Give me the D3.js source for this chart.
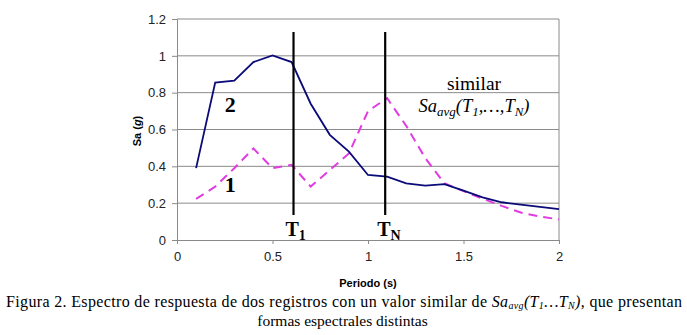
<!DOCTYPE html>
<html>
<head>
<meta charset="utf-8">
<script src="https://cdn.jsdelivr.net/npm/d3@7"></script>
<style>
  body { margin: 0; background: #fff; }
  svg { display: block; }
</style>
</head>
<body>
<div id="chart"></div>
<script>
// periods (s)
var periods = [0.1, 0.2, 0.3, 0.4, 0.5, 0.6, 0.7, 0.8, 0.9, 1.0, 1.1, 1.2, 1.3, 1.4, 1.5, 1.6, 1.7, 1.8, 1.9, 2.0];
// record 2 (solid navy)
var record2 = [0.39, 0.855, 0.865, 0.966, 1.002, 0.966, 0.74, 0.571, 0.48, 0.353, 0.344, 0.308, 0.295, 0.303, 0.268, 0.232, 0.205, 0.192, 0.18, 0.168];
// record 1 (dashed magenta)
var record1 = [0.223, 0.29, 0.39, 0.497, 0.39, 0.408, 0.29, 0.38, 0.47, 0.70, 0.77, 0.62, 0.444, 0.308, 0.265, 0.225, 0.185, 0.149, 0.127, 0.112];
var yTicks = [0, 0.2, 0.4, 0.6, 0.8, 1, 1.2];
var xTicks = [0, 0.5, 1, 1.5, 2];
var periodMarks = [{t: 0.61, name: 'T', sub: '1'}, {t: 1.09, name: 'T', sub: 'N'}];

var W = 687, H = 335;
var margin = {top: 19, right: 128, bottom: 95, left: 177},
    width = 559 - margin.left,
    height = 240 - margin.top;

var root = d3.select('#chart')
    .append('svg')
    .attr('width', W)
    .attr('height', H);

var svg = root.append('g')
    .attr('transform', `translate(${margin.left}, ${margin.top})`);

var x = d3.scaleLinear().domain([0, 2]).range([0, width]);
var y = d3.scaleLinear().domain([0, 1.2]).range([height, 0]);

// gridlines
svg.selectAll('.grid')
    .data(yTicks.slice(1))
    .enter()
    .append('line')
    .attr('x1', 0)
    .attr('x2', width)
    .attr('y1', d => y(d))
    .attr('y2', d => y(d))
    .style('stroke', '#8a8a8a')
    .style('stroke-width', 1);

// right border of the plot area
svg.append('line')
    .attr('x1', width).attr('x2', width)
    .attr('y1', 0).attr('y2', height)
    .style('stroke', '#8a8a8a');

// axes
var yAxis = svg.append('g')
    .call(d3.axisLeft(y).tickValues(yTicks).tickSize(5).tickPadding(6).tickFormat(d3.format('')))
yAxis.selectAll('text').style('font-family', 'Liberation Sans, Arial').style('font-size', '13px').style('fill', '#222');
yAxis.selectAll('line, path').style('stroke', '#8a8a8a');

var xAxis = svg.append('g')
    .attr('transform', `translate(0, ${height})`)
    .call(d3.axisBottom(x).tickValues(xTicks).tickSize(4).tickPadding(8).tickFormat(d3.format('')))
xAxis.selectAll('text').style('font-family', 'Liberation Sans, Arial').style('font-size', '13px').style('fill', '#222');
xAxis.selectAll('line, path').style('stroke', '#8a8a8a');

// lines
var line = d3.line()
    .x((d, i) => x(periods[i]))
    .y(d => y(d));

svg.append('path')
    .datum(record1)
    .attr('d', line)
    .style('fill', 'none')
    .style('stroke', '#e03ce0')
    .style('stroke-width', 2)
    .style('stroke-dasharray', '9,6');

svg.append('path')
    .datum(record2)
    .attr('d', line)
    .style('fill', 'none')
    .style('stroke', '#0a0a78')
    .style('stroke-width', 1.8);

// vertical period markers
svg.selectAll('.mark')
    .data(periodMarks)
    .enter()
    .append('line')
    .attr('x1', d => x(d.t))
    .attr('x2', d => x(d.t))
    .attr('y1', 13)
    .attr('y2', 196)
    .style('stroke', '#000')
    .style('stroke-width', 2.2);

var markLabel = svg.selectAll('.markLabel')
    .data(periodMarks)
    .enter()
    .append('text')
    .attr('x', d => x(d.t) - 8)
    .attr('y', 217)
    .style('font-family', 'Liberation Serif, Times New Roman')
    .style('font-weight', 'bold')
    .style('font-size', '20px');
markLabel.append('tspan').text(d => d.name);
markLabel.append('tspan').attr('dy', 4).style('font-size', '14px').text(d => d.sub);

// series labels
svg.append('text')
    .attr('x', x(0.25)).attr('y', 93)
    .style('font-family', 'Liberation Serif, Times New Roman')
    .style('font-weight', 'bold')
    .style('font-size', '22px')
    .text('2');
svg.append('text')
    .attr('x', x(0.25)).attr('y', 173)
    .style('font-family', 'Liberation Serif, Times New Roman')
    .style('font-weight', 'bold')
    .style('font-size', '22px')
    .text('1');

// similar Sa_avg annotation
svg.append('text')
    .attr('x', 297).attr('y', 71)
    .attr('text-anchor', 'middle')
    .style('font-family', 'Liberation Serif, Times New Roman')
    .style('font-size', '19.5px')
    .text('similar');
var sa = svg.append('text')
    .attr('x', 297).attr('y', 93)
    .attr('text-anchor', 'middle')
    .style('font-family', 'Liberation Serif, Times New Roman')
    .style('font-style', 'italic')
    .style('font-size', '18.5px');
sa.append('tspan').text('Sa');
sa.append('tspan').attr('dy', 4).style('font-size', '13px').text('avg');
sa.append('tspan').attr('dy', -4).text('(T');
sa.append('tspan').attr('dy', 4).style('font-size', '13px').text('1');
sa.append('tspan').attr('dy', -4).text(',…,T');
sa.append('tspan').attr('dy', 4).style('font-size', '13px').text('N');
sa.append('tspan').attr('dy', -4).text(')');

// axis titles
var yt = root.append('text')
    .attr('transform', 'translate(141, 131) rotate(-90)')
    .attr('text-anchor', 'middle')
    .style('font-family', 'Liberation Sans, Arial')
    .style('font-weight', 'bold')
    .style('font-size', '11px');
yt.append('tspan').text('Sa (');
yt.append('tspan').style('font-style', 'italic').text('g');
yt.append('tspan').text(')');

root.append('text')
    .attr('x', 368).attr('y', 287)
    .attr('text-anchor', 'middle')
    .style('font-family', 'Liberation Sans, Arial')
    .style('font-weight', 'bold')
    .style('font-size', '11px')
    .text('Periodo (s)');

// caption
var cap = root.append('text')
    .attr('x', 344).attr('y', 307)
    .attr('text-anchor', 'middle')
    .attr('textLength', 676)
    .attr('lengthAdjust', 'spacing')
    .style('font-family', 'Liberation Serif, Times New Roman')
    .style('font-size', '16px');
cap.append('tspan').text('Figura 2. Espectro de respuesta de dos registros con un valor similar de ');
cap.append('tspan').style('font-style', 'italic').text('Sa');
cap.append('tspan').style('font-style', 'italic').attr('dy', 2).style('font-size', '10px').text('avg');
cap.append('tspan').style('font-style', 'italic').attr('dy', -2).text('(T');
cap.append('tspan').style('font-style', 'italic').attr('dy', 2).style('font-size', '10px').text('1');
cap.append('tspan').style('font-style', 'italic').attr('dy', -2).text('…T');
cap.append('tspan').style('font-style', 'italic').attr('dy', 2).style('font-size', '10px').text('N');
cap.append('tspan').style('font-style', 'italic').attr('dy', -2).text(')');
cap.append('tspan').text(', que presentan');

root.append('text')
    .attr('x', 342.5).attr('y', 326)
    .attr('text-anchor', 'middle')
    .style('font-family', 'Liberation Serif, Times New Roman')
    .style('font-size', '15.5px')
    .text('formas espectrales distintas');
</script>
</body>
</html>
